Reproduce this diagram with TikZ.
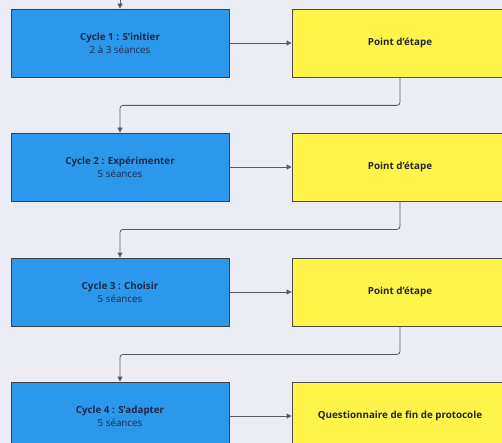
\documentclass[tikz,border=0pt]{standalone}
\usepackage{fontspec}
\setmainfont{Open Sans}
\usetikzlibrary{arrows.meta}
\newcommand\myapos{\char"0027\relax}
\definecolor{bg}{HTML}{ECECF5}
\definecolor{bluebox}{HTML}{2C98EC}
\definecolor{yellowbox}{HTML}{FFF44A}
\definecolor{txt}{HTML}{1C2A4A}
\definecolor{conn}{HTML}{5A5A66}
\tikzset{
  cyclebox/.style={draw=black!75, line width=0.8pt, fill=bluebox, minimum width=218pt, minimum height=68pt, align=center, text=txt, font=\fontsize{9.8}{13}\selectfont, inner sep=0pt},
  pointbox/.style={draw=black!70, line width=0.8pt, fill=yellowbox, minimum width=216pt, minimum height=68pt, align=center, text=black!85, font=\fontsize{9.8}{13}\selectfont\bfseries, inner sep=0pt},
  link/.style={draw=conn, line width=0.8pt, -{Triangle[length=5pt,width=5pt]}, rounded corners=3pt}
}
\begin{document}
\begin{tikzpicture}[x=1pt,y=-1pt]
\fill[bg] (0,0) rectangle (502,443);
\useasboundingbox (0,0) rectangle (502,443);
\coordinate (top) at (120,0);
\node[cyclebox] (b1) at (120,43) {\textbf{Cycle 1 : S\myapos initier}\\2 à 3 séances};
\node[cyclebox] (b2) at (120,167) {\textbf{Cycle 2 : Expérimenter}\\5 séances};
\node[cyclebox] (b3) at (120,292) {\textbf{Cycle 3 : Choisir}\\5 séances};
\node[cyclebox] (b4) at (120,416) {\textbf{Cycle 4 : S\myapos adapter}\\5 séances};
\node[pointbox] (y1) at (400,43) {Point d\myapos étape};
\node[pointbox] (y2) at (400,167) {Point d\myapos étape};
\node[pointbox] (y3) at (400,292) {Point d\myapos étape};
\node[pointbox] (y4) at (400,416) {Questionnaire de fin de protocole};
\draw[link] (top) -- (b1.north);
\draw[link] (b1) -- (y1);
\draw[link] (b2) -- (y2);
\draw[link] (b3) -- (y3);
\draw[link] (b4) -- (y4);
\draw[link] (y1.south) -- ++(0,28) -| (b2.north);
\draw[link] (y2.south) -- ++(0,28) -| (b3.north);
\draw[link] (y3.south) -- ++(0,28) -| (b4.north);
\end{tikzpicture}
\end{document}
